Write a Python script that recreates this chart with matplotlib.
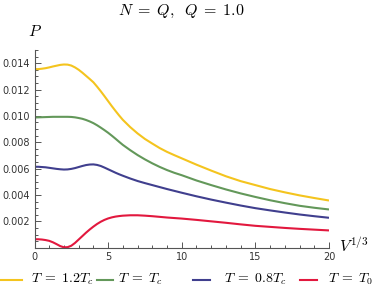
import numpy as np
import matplotlib
matplotlib.use("Agg")
import matplotlib.pyplot as plt
from matplotlib.lines import Line2D
from matplotlib.ticker import MultipleLocator

plt.rcParams['mathtext.fontset'] = 'cm'

# V^(1/3) sample points
v = [0, 0.25, 0.5, 0.75, 1, 1.25, 1.5, 1.75, 2, 2.25, 2.5, 2.75, 3, 3.25, 3.5, 3.75,
     4, 4.25, 4.5, 4.75, 5, 5.25, 5.5, 5.75, 6,
     6.5, 7, 7.5, 8, 8.5, 9, 9.5, 10,
     11, 12, 13, 14, 15, 16, 17, 18, 19, 20]

# pressure, in units of 1e-3
p_12tc = [13.55, 13.55, 13.58, 13.62, 13.68, 13.75, 13.81, 13.87, 13.9, 13.89, 13.82, 13.68,
          13.5, 13.28, 13.04, 12.8, 12.55, 12.22, 11.87, 11.5, 11.12, 10.74, 10.38, 10.03, 9.7,
          9.15, 8.67, 8.25, 7.9, 7.56, 7.27, 7.02, 6.78,
          6.3, 5.85, 5.42, 5.05, 4.75, 4.45, 4.2, 3.97, 3.77, 3.58]
p_tc = [9.88, 9.89, 9.9, 9.91, 9.92, 9.93, 9.93, 9.93, 9.93, 9.93, 9.92, 9.89,
        9.84, 9.78, 9.69, 9.58, 9.45, 9.29, 9.11, 8.92, 8.72, 8.5, 8.27, 8.03, 7.8,
        7.4, 7.03, 6.7, 6.4, 6.13, 5.89, 5.68, 5.5,
        5.1, 4.75, 4.42, 4.12, 3.85, 3.6, 3.38, 3.18, 3.03, 2.9]
p_08tc = [6.14, 6.14, 6.12, 6.1, 6.06, 6.02, 5.98, 5.95, 5.93, 5.94, 5.98, 6.04,
          6.12, 6.2, 6.27, 6.31, 6.32, 6.28, 6.2, 6.08, 5.95, 5.82, 5.69, 5.57, 5.46,
          5.25, 5.06, 4.9, 4.75, 4.6, 4.45, 4.31, 4.17,
          3.9, 3.65, 3.42, 3.2, 3.0, 2.83, 2.67, 2.52, 2.39, 2.27]
p_t0 = [0.64, 0.64, 0.62, 0.58, 0.52, 0.41, 0.27, 0.12, 0.03, 0.04, 0.15, 0.36,
        0.62, 0.88, 1.14, 1.38, 1.6, 1.8, 1.97, 2.11, 2.22, 2.3, 2.36, 2.4, 2.43,
        2.46, 2.46, 2.43, 2.39, 2.34, 2.29, 2.25, 2.21,
        2.11, 2.0, 1.89, 1.77, 1.66, 1.58, 1.5, 1.43, 1.37, 1.31]

series = [p_12tc, p_tc, p_08tc, p_t0]
labels = [r'$T \;=\; 1.2T_c$', r'$T \;=\; T_c$', r'$T \;=\; 0.8T_c$', r'$T \;=\; T_0$']
colors = ['#F4C41E', '#63985A', '#403F8E', '#E2183E']

W, H = 374, 293
fig = plt.figure(figsize=(W / 100, H / 100), dpi=100)
ax = fig.add_axes([34.5 / W, 45.3 / H, (329 - 34.5) / W, (243 - 45.3) / H])

x = np.array(v)
for ys, c in zip(series, colors):
    ax.plot(x, np.array(ys) * 1e-3, color=c, lw=1.5, solid_capstyle='butt')

ax.set_xlim(0, 20)
ax.set_ylim(0, 0.015)
ax.set_xticks([0, 5, 10, 15, 20])
ax.xaxis.set_minor_locator(MultipleLocator(1))
ax.set_yticks([0.002, 0.004, 0.006, 0.008, 0.010, 0.012, 0.014])
ax.set_yticklabels(['0.002', '0.004', '0.006', '0.008', '0.010', '0.012', '0.014'])
ax.yaxis.set_minor_locator(MultipleLocator(0.0005))

for s in ['top', 'right']:
    ax.spines[s].set_visible(False)
for s in ['left', 'bottom']:
    ax.spines[s].set_color('#555555')
    ax.spines[s].set_linewidth(0.8)
ax.tick_params(which='both', direction='in', color='#555555', labelcolor='#333333',
               labelsize=7, width=0.7)
ax.tick_params(which='major', length=4, pad=3)
ax.tick_params(which='minor', length=2)
ax.patch.set_alpha(0)

fig.text(181 / W, 1 - 11 / H, r'$N \;=\; Q,\;\; Q \;=\; 1.0$', ha='center', va='center', fontsize=11.5)
fig.text(35 / W, 1 - 31 / H, r'$P$', ha='center', va='center', fontsize=11.5)
fig.text(339 / W, 1 - 246 / H, r'$V^{1/3}$', ha='left', va='center', fontsize=11.5)

# legend row below the plot
line_x = [(0, 22), (97, 113), (193, 210), (300, 317)]
text_x = [31, 118, 224, 328]
ly = 1 - 279.5 / H
for (x0, x1), tx, lab, c in zip(line_x, text_x, labels, colors):
    fig.add_artist(Line2D([x0 / W, x1 / W], [ly, ly], color=c, lw=1.5,
                          transform=fig.transFigure))
    fig.text(tx / W, ly, lab, ha='left', va='center', fontsize=10)

fig.savefig('out.png', dpi=100)
